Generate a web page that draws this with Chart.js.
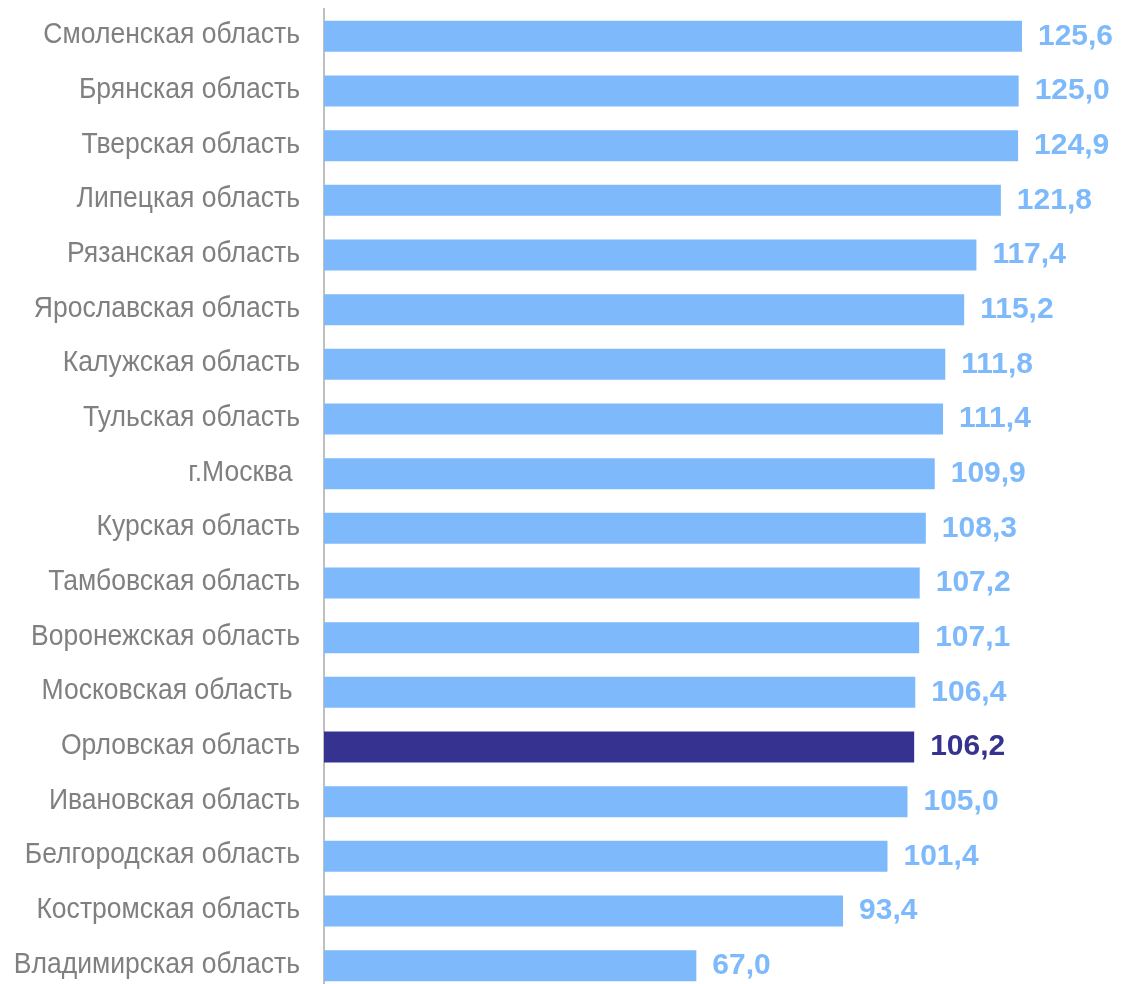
<!DOCTYPE html>
<html>
<head>
<meta charset="utf-8">
<script src="https://cdn.jsdelivr.net/npm/chart.js@4/dist/chart.umd.min.js"></script>
<style>
html,body{margin:0;padding:0;background:#fff;overflow:hidden;}
canvas{display:block;}
</style>
</head>
<body>
<canvas id="c" width="1122" height="1000"></canvas>
<script>
const categories = [
  "Смоленская область","Брянская область","Тверская область","Липецкая область",
  "Рязанская область","Ярославская область","Калужская область","Тульская область",
  "г.Москва ","Курская область","Тамбовская область","Воронежская область",
  "Московская область ","Орловская область","Ивановская область","Белгородская область",
  "Костромская область","Владимирская область"
];
const values = [125.6,125.0,124.9,121.8,117.4,115.2,111.8,111.4,109.9,108.3,107.2,107.1,106.4,106.2,105.0,101.4,93.4,67.0];
const highlighted = ["Орловская область"];

const BASE = '#7EBAFB';
const HIGH = '#35338F';
const colors = categories.map(c => highlighted.includes(c.trim()) ? HIGH : BASE);

// category labels: drawn at the y-scale tick positions, slightly condensed like the original
const categoryLabels = {
  id: 'categoryLabels',
  afterDraw(chart) {
    const ctx = chart.ctx;
    const yScale = chart.scales.y;
    ctx.save();
    ctx.font = '29px "Liberation Sans", Arial, sans-serif';
    ctx.fillStyle = '#808080';
    ctx.textAlign = 'right';
    ctx.textBaseline = 'middle';
    yScale.ticks.forEach((t, i) => {
      const y = yScale.getPixelForTick(i);
      ctx.save();
      ctx.translate(yScale.right - 24, y - 1);
      ctx.scale(0.915, 1);
      ctx.fillText(yScale.getLabelForValue(t.value), 0, 0);
      ctx.restore();
    });
    ctx.restore();
  }
};

const valueLabels = {
  id: 'valueLabels',
  afterDatasetsDraw(chart) {
    const ctx = chart.ctx;
    const meta = chart.getDatasetMeta(0);
    ctx.save();
    ctx.font = 'bold 30px "Liberation Sans", Arial, sans-serif';
    ctx.textAlign = 'left';
    ctx.textBaseline = 'middle';
    meta.data.forEach((bar, i) => {
      ctx.fillStyle = colors[i];
      ctx.fillText(values[i].toFixed(1).replace('.', ','), bar.x + 16, bar.y);
    });
    ctx.restore();
  }
};

new Chart(document.getElementById('c'), {
  type: 'bar',
  data: {
    labels: categories,
    datasets: [{
      data: values,
      backgroundColor: colors,
      borderWidth: 0,
      categoryPercentage: 1,
      barPercentage: 0.567
    }]
  },
  options: {
    indexAxis: 'y',
    responsive: false,
    animation: false,
    layout: { padding: { top: 9, bottom: 7, right: 20, left: 0 } },
    plugins: { legend: { display: false }, tooltip: { enabled: false } },
    scales: {
      x: {
        display: false,
        min: 0,
        max: 140
      },
      y: {
        grid: { display: false, drawTicks: false },
        border: { display: true, color: '#BFBFBF', width: 2 },
        ticks: { display: false },
        afterFit(scale) {
          scale.width = 324;
          scale.paddingTop = 0;
          scale.paddingBottom = 0;
        }
      }
    }
  },
  plugins: [valueLabels, categoryLabels]
});
</script>
</body>
</html>
